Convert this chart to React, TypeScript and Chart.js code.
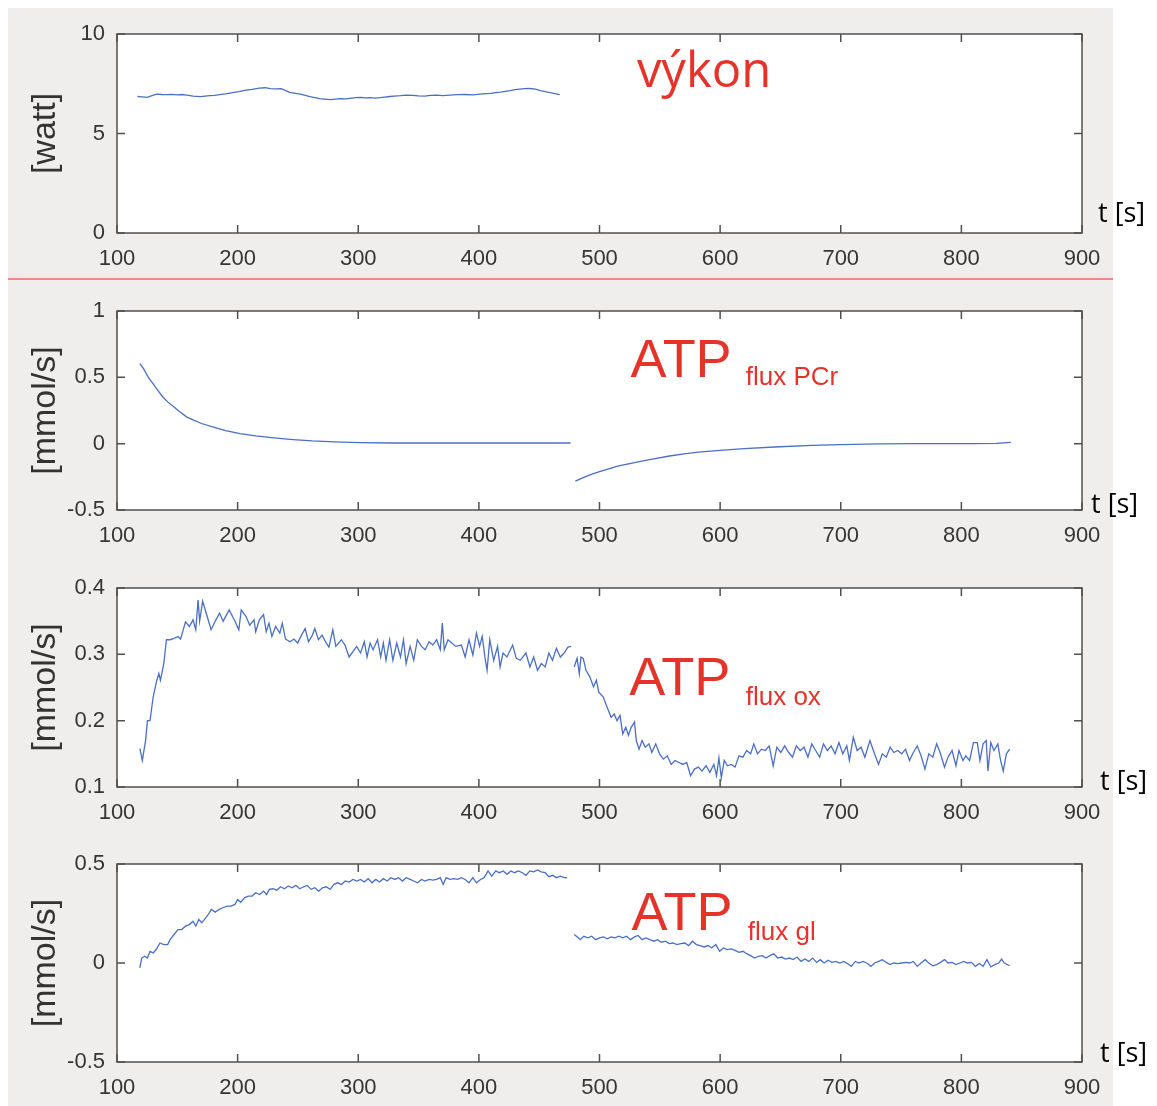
import React, { useEffect, useRef } from "react";
import { Chart, registerables } from "chart.js";

Chart.register(...registerables);

type Pair = [number, number];

// ---------- time axis ----------
const timeMin = 100;
const timeMax = 900;
const timeStep = 100;

// ---------- power output [watt] ----------
const powerTrace: Pair[] = [
  [117, 6.86], [121, 6.84], [125, 6.82], [129, 6.9], [133, 6.98], [137, 6.96], [141, 6.95], [145, 6.97],
  [150, 6.94], [154, 6.96], [158, 6.93], [163, 6.88], [169, 6.85], [173, 6.88], [177, 6.9], [181, 6.92],
  [185, 6.95], [190, 6.99], [196, 7.05], [201, 7.1], [207, 7.18], [212, 7.22], [218, 7.28], [223, 7.3],
  [227, 7.25], [232, 7.24], [236, 7.25], [240, 7.15], [243, 7.07], [248, 7.02], [252, 6.98], [256, 6.92],
  [260, 6.85], [264, 6.8], [268, 6.75], [272, 6.73], [277, 6.7], [281, 6.73], [285, 6.75], [289, 6.74],
  [293, 6.77], [298, 6.8], [302, 6.82], [306, 6.79], [310, 6.8], [314, 6.78], [318, 6.8], [322, 6.83],
  [326, 6.86], [330, 6.88], [335, 6.9], [340, 6.93], [345, 6.92], [350, 6.89], [355, 6.88], [360, 6.92],
  [365, 6.93], [370, 6.9], [376, 6.93], [382, 6.95], [388, 6.96], [395, 6.94], [401, 6.98], [406, 7.0],
  [410, 7.02], [414, 7.05], [418, 7.08], [422, 7.12], [426, 7.15], [430, 7.2], [434, 7.23], [438, 7.25],
  [442, 7.26], [447, 7.23], [451, 7.16], [455, 7.1], [459, 7.05], [462, 7.02], [467, 6.95],
];

// ---------- ATP flux from PCr [mmol/s] ----------
const pcrExercise: Pair[] = [
  [119, 0.604], [122, 0.565], [126, 0.5], [130, 0.45], [134, 0.4], [138, 0.352], [142, 0.315],
  [146, 0.285], [152, 0.24], [158, 0.2], [164, 0.175], [170, 0.152], [180, 0.125], [190, 0.098],
  [202, 0.076], [215, 0.059], [230, 0.044], [246, 0.031], [262, 0.021], [280, 0.014], [301, 0.008],
  [330, 0.005], [360, 0.005], [400, 0.005], [440, 0.005], [476, 0.005],
];
const pcrRecovery: Pair[] = [
  [480, -0.283], [485, -0.262], [490, -0.243], [495, -0.226], [500, -0.211], [507, -0.191], [515, -0.17],
  [525, -0.15], [535, -0.131], [545, -0.114], [558, -0.093], [570, -0.077], [582, -0.064], [600, -0.05],
  [620, -0.038], [645, -0.025], [676, -0.013], [700, -0.007], [732, -0.002], [760, 0.0], [788, 0.0],
  [810, 0.0], [829, 0.002], [841, 0.01],
];

// ---------- oxidative ATP flux [mmol/s] ----------
const oxExercise: Pair[] = [
  [119, 0.158], [121, 0.14], [123.7, 0.17], [125.2, 0.2], [127.4, 0.2], [130, 0.236], [133, 0.261],
  [134.7, 0.271], [136, 0.261], [138.8, 0.286], [141, 0.322], [144, 0.322], [147.3, 0.324], [150.5, 0.327],
  [152.7, 0.323], [156.8, 0.349], [160, 0.342], [163, 0.352], [165.3, 0.337], [167.2, 0.382], [168.5, 0.35],
  [171, 0.38], [174, 0.362], [178, 0.337], [182, 0.352], [185, 0.362], [188, 0.35], [193, 0.367],
  [197.8, 0.35], [201, 0.337], [203, 0.367], [207, 0.357], [210, 0.344], [213.6, 0.352], [215, 0.334],
  [218, 0.352], [221.5, 0.36], [223.7, 0.334], [226, 0.347], [228.4, 0.327], [231.5, 0.342], [235, 0.332],
  [237, 0.347], [239.7, 0.323], [243.5, 0.319], [246.7, 0.323], [249.8, 0.317], [253, 0.329], [256, 0.339],
  [258.7, 0.319], [262, 0.329], [264, 0.339], [267, 0.322], [270, 0.329], [273.5, 0.317], [275.7, 0.311],
  [278.9, 0.337], [281.4, 0.312], [286, 0.322], [289, 0.314], [292.4, 0.296], [295.6, 0.304], [298.7, 0.312],
  [301.9, 0.302], [305, 0.319], [307.3, 0.296], [309.8, 0.317], [312.3, 0.307], [316, 0.322], [318.6, 0.296],
  [320.8, 0.317], [323, 0.291], [326, 0.322], [328.7, 0.291], [331.9, 0.317], [335, 0.296], [337.5, 0.322],
  [339.7, 0.286], [343, 0.312], [346, 0.291], [349, 0.322], [352.4, 0.312], [355.5, 0.307], [358.7, 0.319],
  [361.8, 0.314], [365, 0.322], [368, 0.307], [369.7, 0.347], [371.3, 0.307], [374.4, 0.322], [377.6, 0.317],
  [380.8, 0.312], [385.5, 0.314], [388.6, 0.296], [391.8, 0.322], [395, 0.299], [398, 0.332], [400.6, 0.312],
  [402.8, 0.327], [405, 0.296], [406.8, 0.276], [409, 0.322], [412.3, 0.291], [415.5, 0.312], [417.6, 0.281],
  [420, 0.302], [423.3, 0.296], [428, 0.314], [431, 0.294], [434.3, 0.291], [439, 0.302], [442.3, 0.281],
  [445.4, 0.296], [448.6, 0.276], [451.7, 0.286], [455, 0.281], [458, 0.302], [461, 0.291], [464.3, 0.309],
  [467.5, 0.296], [470.7, 0.302], [473.8, 0.311], [476.5, 0.312],
];
const oxRecovery: Pair[] = [
  [479, 0.281], [481.4, 0.294], [483.3, 0.271], [484.6, 0.296], [486.5, 0.294], [488.8, 0.276], [492, 0.266],
  [495, 0.251], [497.4, 0.261], [499.4, 0.243], [503, 0.236], [506.4, 0.22], [509.6, 0.205], [512.2, 0.21],
  [514.5, 0.2], [517, 0.208], [519.3, 0.18], [521.8, 0.19], [524, 0.178], [526.3, 0.19], [529, 0.198],
  [530.5, 0.17], [532.8, 0.157], [535.3, 0.17], [537.9, 0.16], [541, 0.165], [543.4, 0.152], [546.6, 0.165],
  [549.8, 0.15], [553, 0.142], [556.2, 0.147], [559.4, 0.134], [562.6, 0.14], [565.9, 0.137], [569, 0.134],
  [572.3, 0.137], [575.5, 0.117], [578.7, 0.127], [582, 0.13], [585, 0.124], [588.3, 0.132], [591.5, 0.122],
  [594.8, 0.134], [597, 0.117], [599, 0.144], [601, 0.114], [603.4, 0.14], [606, 0.132], [609.2, 0.134],
  [612.4, 0.13], [615.6, 0.147], [618.9, 0.145], [622, 0.155], [625.3, 0.15], [627.9, 0.165], [631, 0.15],
  [634.3, 0.157], [637.5, 0.155], [640.7, 0.162], [644, 0.132], [647, 0.16], [650.3, 0.152], [653.5, 0.162],
  [656.8, 0.152], [660, 0.145], [663.2, 0.162], [666.4, 0.155], [669.6, 0.16], [672.8, 0.145], [676, 0.165],
  [679.2, 0.155], [682.5, 0.145], [685.7, 0.165], [688.9, 0.155], [692, 0.162], [695.3, 0.15], [698.5, 0.167],
  [701.7, 0.15], [705, 0.162], [707.2, 0.14], [710.4, 0.175], [713.6, 0.155], [716.8, 0.16], [720, 0.145],
  [724.2, 0.17], [728, 0.15], [731.3, 0.134], [734.5, 0.15], [737.7, 0.145], [741, 0.16], [744, 0.152],
  [747.3, 0.155], [750.5, 0.15], [753.7, 0.157], [757, 0.14], [760.2, 0.152], [763.4, 0.162], [766.6, 0.147],
  [769.8, 0.127], [773, 0.15], [776.3, 0.145], [779.5, 0.165], [782.7, 0.15], [786, 0.13], [789, 0.145],
  [792.3, 0.155], [795.5, 0.132], [798, 0.155], [801.3, 0.14], [803.6, 0.147], [806.8, 0.14], [810, 0.167],
  [813.2, 0.167], [815.4, 0.14], [818, 0.165], [820.6, 0.17], [822, 0.124], [824.4, 0.167], [827, 0.155],
  [830.2, 0.165], [832.5, 0.14], [834.7, 0.124], [837.3, 0.15], [840, 0.157],
];

// ---------- glycolytic ATP flux [mmol/s] ----------
const glExercise: Pair[] = [
  [118.9, -0.025], [120.5, 0.025], [123, 0.034], [125.2, 0.025], [127.4, 0.059], [130, 0.051], [132.5, 0.068],
  [135.6, 0.101], [138.8, 0.093], [142, 0.093], [144, 0.118], [147.3, 0.144], [150.5, 0.169], [153.6, 0.169],
  [156.8, 0.186], [160, 0.194], [163, 0.211], [165.3, 0.186], [167.8, 0.22], [170.3, 0.203], [173.5, 0.228],
  [175.7, 0.245], [178.2, 0.27], [181.4, 0.257], [184.5, 0.27], [187.7, 0.279], [191.5, 0.287], [194.6, 0.287],
  [197.8, 0.296], [200, 0.321], [202.5, 0.307], [205.7, 0.329], [208.8, 0.338], [212, 0.338], [215, 0.355],
  [218.3, 0.346], [221.5, 0.363], [224, 0.346], [226.2, 0.372], [229.3, 0.375], [232.5, 0.368], [235.6, 0.385],
  [238.8, 0.375], [242, 0.389], [245, 0.38], [248.3, 0.392], [251.4, 0.375], [254.6, 0.385], [257.7, 0.392],
  [260.9, 0.372], [264, 0.38], [267.2, 0.363], [270.3, 0.38], [273.5, 0.385], [276.7, 0.372], [279.8, 0.397],
  [283, 0.405], [286, 0.397], [289.3, 0.414], [292.4, 0.409], [295.6, 0.422], [298.7, 0.414], [301.9, 0.422],
  [305, 0.409], [308.2, 0.426], [311.4, 0.405], [314.5, 0.422], [317.7, 0.409], [320.8, 0.426], [324, 0.414],
  [327, 0.431], [330.3, 0.422], [333.4, 0.431], [336.6, 0.414], [339.7, 0.431], [343, 0.422], [346, 0.414],
  [349.2, 0.405], [352.4, 0.422], [355.5, 0.414], [358.7, 0.422], [361.8, 0.419], [365, 0.422], [368, 0.431],
  [370.4, 0.397], [372.9, 0.431], [376, 0.422], [379.2, 0.426], [382.4, 0.422], [385.5, 0.431], [388.6, 0.422],
  [391.8, 0.405], [395, 0.431], [398, 0.405], [401.3, 0.422], [404.4, 0.431], [407.6, 0.465], [410.7, 0.439],
  [414, 0.465], [417, 0.456], [420.2, 0.465], [423.3, 0.448], [426.5, 0.465], [429.6, 0.456], [432.8, 0.465],
  [436, 0.456], [439, 0.443], [442.3, 0.465], [445.4, 0.46], [448.6, 0.47], [451.7, 0.46], [455, 0.456],
  [458, 0.436], [461.2, 0.443], [464.3, 0.431], [467.5, 0.439], [470.7, 0.431], [473.2, 0.431],
];
const glRecovery: Pair[] = [
  [479, 0.144], [481.4, 0.132], [484, 0.118], [487, 0.135], [490.4, 0.127], [493.6, 0.135], [496.8, 0.118],
  [500, 0.127], [503.2, 0.132], [506.4, 0.122], [509.6, 0.132], [512.8, 0.127], [516, 0.135], [519.3, 0.127],
  [522.5, 0.135], [525.7, 0.118], [529, 0.132], [532, 0.139], [535.3, 0.118], [538.5, 0.127], [541.8, 0.118],
  [545, 0.11], [548, 0.118], [551.4, 0.105], [554.6, 0.11], [557.8, 0.098], [561, 0.101], [564.2, 0.093],
  [567.4, 0.098], [570.7, 0.101], [573.9, 0.088], [577, 0.11], [580.3, 0.093], [583.5, 0.088], [586.7, 0.081],
  [590, 0.088], [593, 0.076], [596.4, 0.093], [599.6, 0.059], [602.8, 0.076], [606, 0.068], [609.2, 0.071],
  [612.4, 0.064], [615.6, 0.054], [619, 0.059], [622, 0.047], [625.3, 0.037], [628.5, 0.025], [631.7, 0.034],
  [635, 0.037], [638, 0.025], [641.3, 0.037], [644.5, 0.047], [647.8, 0.025], [651, 0.03], [654.2, 0.02],
  [657.4, 0.025], [660.6, 0.017], [663.8, 0.03], [667, 0.008], [670.3, 0.02], [673.5, 0.008], [676.7, 0.025],
  [680, 0.003], [683, 0.017], [686.3, 0.0], [689.5, 0.014], [692.7, 0.003], [696, 0.008], [699.2, 0.0],
  [702.4, 0.008], [705.6, -0.003], [708.8, -0.017], [712, 0.008], [715.2, 0.0], [718.4, 0.008], [721.6, 0.0],
  [725, -0.017], [728, 0.0], [731.3, 0.008], [734.5, 0.017], [737.7, 0.003], [741, -0.008], [744, 0.0],
  [747.3, -0.003], [750.5, 0.0], [753.8, 0.003], [757, 0.0], [760.2, 0.008], [763.4, -0.017], [766.6, 0.0],
  [770, 0.017], [773, 0.0], [776.3, -0.014], [779.5, -0.008], [782.7, 0.003], [786, 0.017], [789, 0.0],
  [792.3, 0.003], [795.5, -0.008], [798.7, 0.0], [802, 0.008], [805, 0.0], [808.4, 0.003], [811.6, -0.017],
  [814.8, -0.003], [818, -0.017], [821.2, 0.017], [824.4, -0.02], [827.7, -0.008], [831, 0.0], [833.4, 0.02],
  [835.6, 0.0], [840, -0.014],
];

// ---------- styling ----------
const CANVAS_W = 1149;
const PAD_TOP = 26;
const PAD_BOTTOM = 44;
const AXIS_W = 109;
const PAD_RIGHT = 75;
const TICK_LEN = 8;
const BG = "#f0eeec";
const AXIS_COLOR = "#505050";
const TICK_TEXT = "#353535";
const LINE_COLOR = "#4a6fc4";
const RED = "#e6332a";
const SANS = "'Liberation Sans', Arial, sans-serif";
const HUMANIST = "'Open Sans', 'Noto Sans', sans-serif";

type Note = { text: string; x: number; y: number; size: number; family: string };

type PanelSpec = {
  top: number;
  plotH: number;
  yMin: number;
  yMax: number;
  yStep: number;
  yTitle: string;
  traces: Pair[][];
  notes: Note[];
  unitDx: number;
  unitDy: number;
};

const panels: PanelSpec[] = [
  {
    top: 0, plotH: 199, yMin: 0, yMax: 10, yStep: 5, yTitle: "[watt]",
    traces: [powerTrace],
    notes: [{ text: "výkon", x: 531, y: 7.34, size: 49, family: HUMANIST }],
    unitDx: 16, unitDy: -11,
  },
  {
    top: 277, plotH: 199, yMin: -0.5, yMax: 1, yStep: 0.5, yTitle: "[mmol/s]",
    traces: [pcrExercise, pcrRecovery],
    notes: [
      { text: "ATP", x: 525.8, y: 0.506, size: 54, family: SANS },
      { text: "flux PCr", x: 621.3, y: 0.442, size: 26, family: SANS },
    ],
    unitDx: 9, unitDy: 3,
  },
  {
    top: 554, plotH: 199, yMin: 0.1, yMax: 0.4, yStep: 0.1, yTitle: "[mmol/s]",
    traces: [oxExercise, oxRecovery],
    notes: [
      { text: "ATP", x: 524.7, y: 0.2387, size: 54, family: SANS },
      { text: "flux ox", x: 621.2, y: 0.2236, size: 26, family: SANS },
    ],
    unitDx: 18, unitDy: 3,
  },
  {
    top: 830, plotH: 198, yMin: -0.5, yMax: 0.5, yStep: 0.5, yTitle: "[mmol/s]",
    traces: [glExercise, glRecovery],
    notes: [
      { text: "ATP", x: 526.5, y: 0.1667, size: 54, family: SANS },
      { text: "flux gl", x: 622.9, y: 0.116, size: 26, family: SANS },
    ],
    unitDx: 18, unitDy: 0,
  },
];

// White plot face, boxed frame with inward ticks, red labels and the time unit.
const panelDecor = {
  id: "panelDecor",
  beforeDatasetsDraw(chart: any) {
    const { ctx, chartArea: a } = chart;
    ctx.save();
    ctx.fillStyle = "#ffffff";
    ctx.fillRect(a.left, a.top, a.right - a.left, a.bottom - a.top);
    ctx.restore();
  },
  afterDatasetsDraw(chart: any, _args: any, opts: any) {
    const { ctx, chartArea: a, scales } = chart;
    const xs = scales.x;
    const ys = scales.y;
    ctx.save();
    ctx.strokeStyle = AXIS_COLOR;
    ctx.lineWidth = 1.5;
    ctx.strokeRect(a.left, a.top, a.right - a.left, a.bottom - a.top);
    ctx.beginPath();
    xs.ticks.forEach((t: any) => {
      const px = xs.getPixelForValue(t.value);
      ctx.moveTo(px, a.bottom);
      ctx.lineTo(px, a.bottom - TICK_LEN);
      ctx.moveTo(px, a.top);
      ctx.lineTo(px, a.top + TICK_LEN);
    });
    ys.ticks.forEach((t: any) => {
      const py = ys.getPixelForValue(t.value);
      ctx.moveTo(a.left, py);
      ctx.lineTo(a.left + TICK_LEN, py);
      ctx.moveTo(a.right, py);
      ctx.lineTo(a.right - TICK_LEN, py);
    });
    ctx.stroke();

    ctx.textAlign = "left";
    ctx.textBaseline = "alphabetic";
    ctx.fillStyle = RED;
    (opts.notes as Note[]).forEach((n) => {
      ctx.font = `${n.size}px ${n.family}`;
      ctx.fillText(n.text, xs.getPixelForValue(n.x), ys.getPixelForValue(n.y));
    });

    ctx.fillStyle = "#000000";
    ctx.font = `27px ${HUMANIST}`;
    ctx.fillText("t [s]", a.right + opts.unitDx, a.bottom + opts.unitDy);
    ctx.restore();
  },
};

const fmt = (v: number | string) => String(Math.round(Number(v) * 100) / 100);

function Panel({ spec }: { spec: PanelSpec }) {
  const ref = useRef<HTMLCanvasElement>(null);
  const height = PAD_TOP + spec.plotH + PAD_BOTTOM;

  useEffect(() => {
    if (!ref.current) return;
    const chart = new Chart(ref.current, {
      type: "line",
      data: {
        datasets: spec.traces.map((tr) => ({
          data: tr.map(([x, y]) => ({ x, y })),
          borderColor: LINE_COLOR,
          borderWidth: 1.3,
          pointRadius: 0,
          fill: false,
          tension: 0,
        })),
      },
      options: {
        responsive: false,
        animation: false,
        devicePixelRatio: 1,
        layout: { padding: { top: PAD_TOP, right: PAD_RIGHT, bottom: 0, left: 0 } },
        plugins: {
          legend: { display: false },
          tooltip: { enabled: false },
          panelDecor: { notes: spec.notes, unitDx: spec.unitDx, unitDy: spec.unitDy },
        } as any,
        scales: {
          x: {
            type: "linear",
            min: timeMin,
            max: timeMax,
            ticks: {
              stepSize: timeStep,
              autoSkip: false,
              maxRotation: 0,
              padding: 13,
              color: TICK_TEXT,
              font: { family: SANS, size: 22 },
              callback: fmt,
            },
            grid: { display: false, drawTicks: false },
            border: { display: false },
            afterFit: (s: any) => {
              s.height = PAD_BOTTOM;
            },
          },
          y: {
            type: "linear",
            min: spec.yMin,
            max: spec.yMax,
            ticks: {
              stepSize: spec.yStep,
              padding: 12,
              color: TICK_TEXT,
              font: { family: SANS, size: 22 },
              callback: fmt,
            },
            grid: { display: false, drawTicks: false },
            border: { display: false },
            title: {
              display: true,
              text: spec.yTitle,
              color: "#333333",
              font: { family: SANS, size: 34 },
              padding: { top: 17, bottom: 0 },
            },
            afterFit: (s: any) => {
              s.width = AXIS_W;
            },
          },
        },
      } as any,
      plugins: [panelDecor],
    });
    return () => chart.destroy();
  }, [spec]);

  return (
    <canvas
      ref={ref}
      width={CANVAS_W}
      height={height}
      style={{ position: "absolute", left: 0, top: spec.top, width: CANVAS_W, height }}
    />
  );
}

export default function App() {
  return (
    <div style={{ position: "relative", width: CANVAS_W, height: 1098 }}>
      <div style={{ position: "absolute", left: 0, top: 0, width: 1105, height: 1098, background: BG }} />
      <div style={{ position: "absolute", left: 0, top: 270, width: 1105, height: 2, background: "#e88a80" }} />
      {panels.map((p, i) => (
        <Panel key={i} spec={p} />
      ))}
    </div>
  );
}
